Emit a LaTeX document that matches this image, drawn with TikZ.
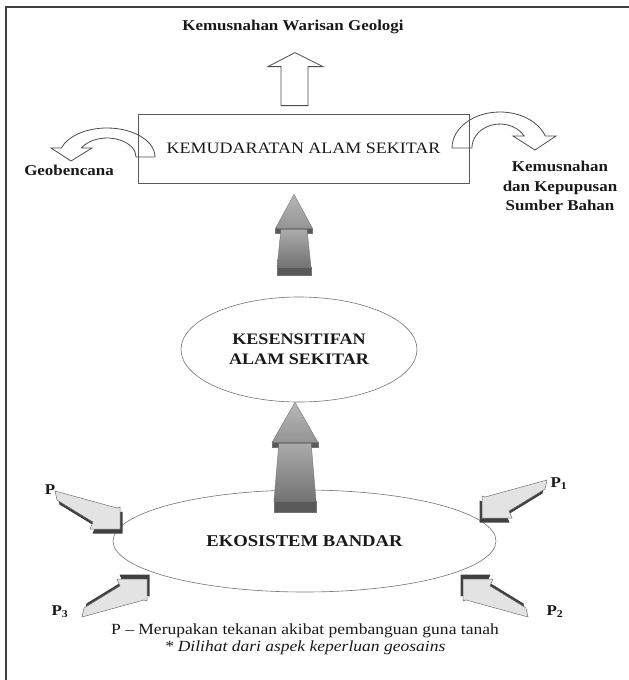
\documentclass[tikz,border=0pt]{standalone}
\usepackage{fontspec}
\setmainfont{Liberation Serif}[FakeStretch=1.13]
\usetikzlibrary{shapes, positioning}
\tikzset{
    boxnode/.style = {draw=black!65, line width=0.8pt, rectangle, inner sep = 0em, node distance=0em,
      minimum width=331pt, minimum height=69pt, text=black!90, font=\fontsize{15.9}{18}\selectfont},
    ovalnode/.style = {draw=black!55, line width=0.6pt, ellipse, inner sep = 0em, node distance=0em,
      text=black!90, font=\bfseries\fontsize{16}{20.5}\selectfont},
    textnode/.style = {draw=none, fill=none, rectangle, inner sep = 0em, node distance=0em,
      text=black!90, font=\bfseries\fontsize{15}{19.5}\selectfont},
    notenode/.style = {draw=none, fill=none, rectangle, inner sep = 0em, node distance=0em,
      text=black!90, font=\fontsize{15.5}{17}\selectfont},
    outline/.style = {draw=black!70, line width=0.8pt},
    bigarrow/.style = {draw=black!55, line width=0.4pt, top color=black!33, bottom color=black!55},
    darkpart/.style = {draw=black!55, line width=0.4pt, fill=black!65},
    pics/pressure/.style = {code={
        \fill[black!75, shift={(2.5,-4.5)}] (0,0) -- (-30,0) -- (-27,7) -- (-63,29) -- (-65,38) -- (-3,21) -- (0,22) -- cycle;
        \draw[draw=black!55, fill=black!11, line width=0.5pt] (0,0) -- (-30,0) -- (-27,7) -- (-63,29) -- (-65,38) -- (-3,21) -- (0,22) -- cycle;
    }},
    % #1 = length, #2 = head length
    pics/bigarrow/.style 2 args = {code={
        \draw[darkpart] (-18.5,-#2) rectangle (18.5,-#2-5);
        \shade[bigarrow] (-13,-#2-1) -- (13,-#2-1) -- (17,-0.9*#1) -- (-17,-0.9*#1) -- cycle;
        \draw[darkpart] (-17,-0.9*#1) rectangle (17,-#1);
        \shade[bigarrow, top color=black!28, bottom color=black!42] (-18.5,-#2) -- (0,0) -- (18.5,-#2) -- cycle;
    }},
    every text node part/.style={align=center}
}

\begin{document}
\begin{tikzpicture}[x=1pt, y=1pt]
    \useasboundingbox (0,0) rectangle (629,-680);
    \draw[black!75, line width=1.2pt] (6,-680) -- (6,-7) -- (629,-7);

    \node [boxnode, name=kemudaratan] at (303.5,-148.5) {KEMUDARATAN ALAM SEKITAR};
    \node [textnode, name=warisan, above of = kemudaratan, xshift=-10.5pt, yshift=121.5pt] {Kemusnahan Warisan Geologi};
    \node [textnode, name=geobencana, left of = kemudaratan, xshift=-234.5pt, yshift=-21.5pt] {Geobencana};
    \node [textnode, name=sumber, right of = kemudaratan, xshift=256.5pt, yshift=-37.5pt] {Kemusnahan\\dan Kepupusan\\Sumber Bahan};

    \node [ovalnode, name=kesensitifan, minimum width=236pt, minimum height=105pt,
      below of = kemudaratan, xshift=-4.5pt, yshift=-201pt] {KESENSITIFAN\\ALAM SEKITAR};
    \node [ovalnode, name=ekosistem, minimum width=383pt, minimum height=102pt,
      below of = kesensitifan, xshift=5.5pt, yshift=-191.5pt, font=\bfseries\fontsize{16.5}{20}\selectfont] {EKOSISTEM BANDAR};

    % hollow arrow up
    \begin{scope}[shift={([xshift=-8.5pt]kemudaratan.north)}]
        \draw[outline, fill=white] (-14,8) -- (-14,47) -- (-27,47) -- (0,61) -- (28,47) -- (13,47) -- (13,8) -- cycle;
    \end{scope}

    % curved arrows
    \draw[outline] (155,-157) arc[start angle=0, end angle=162, x radius=48, y radius=29]
      -- (51,-148) -- (71,-161) -- (92,-148) -- (81.5,-148)
      arc[start angle=151.7, end angle=0, x radius=29, y radius=19] -- cycle;
    \draw[outline] (452,-148) arc[start angle=180, end angle=19.47, x radius=48, y radius=36]
      -- (556,-136) -- (535,-150) -- (513,-136) -- (524.2,-136)
      arc[start angle=30, end angle=180, x radius=28, y radius=24] -- cycle;

    % grey arrows
    \coordinate (tipA) at ([xshift=-9.5pt, yshift=-11pt]kemudaratan.south);
    \pic at (tipA) {bigarrow={81}{34}};
    \coordinate (tipB) at ([xshift=-4pt]kesensitifan.south);
    \pic [xscale=1.24] at (tipB) {bigarrow={110}{40}};

    % pressures
    \pic at (120,-529) {pressure};
    \pic [xscale=-1] at (482,-518) {pressure};
    \pic [xscale=-1, yscale=-1] at (463,-579) {pressure};
    \pic [yscale=-1] at (147,-579) {pressure};
    \node [textnode, name=p] at (50,-490) {P};
    \node [textnode, name=p1] at (559,-484) {P\textsubscript{1}};
    \node [textnode, name=p2] at (555,-612) {P\textsubscript{2}};
    \node [textnode, name=p3] at (60,-612) {P\textsubscript{3}};

    \node [notenode, name=note, below of = ekosistem, xshift=0.5pt, yshift=-98.5pt]
      {P – Merupakan tekanan akibat pembanguan guna tanah\\\textit{* Dilihat dari aspek keperluan geosains}};
\end{tikzpicture}
\end{document}
